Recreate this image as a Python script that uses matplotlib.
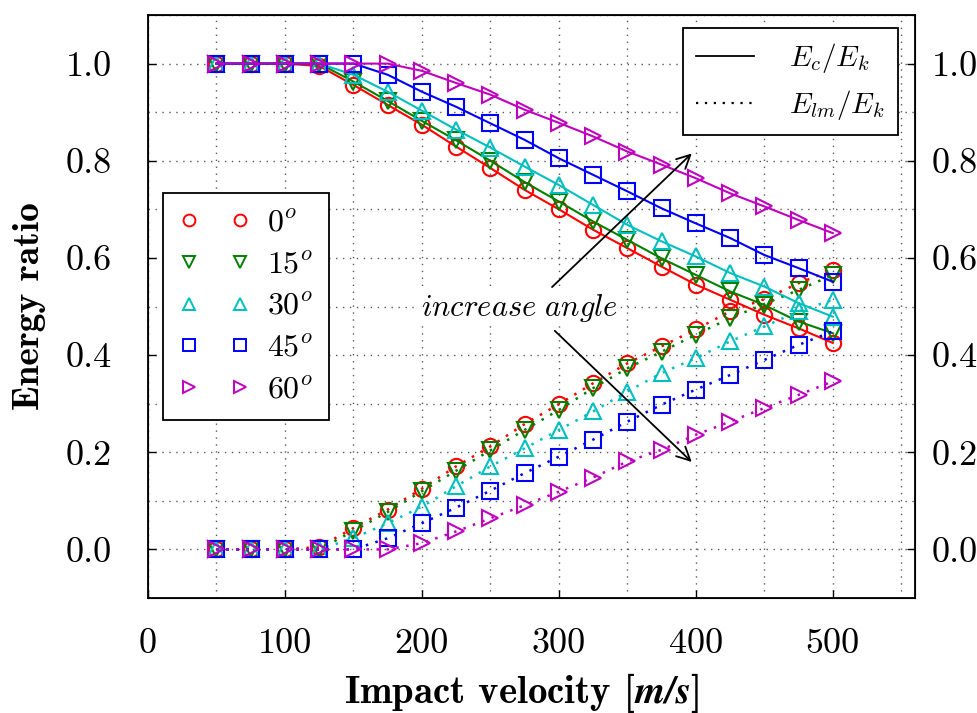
import matplotlib
matplotlib.use("Agg")
import matplotlib.pyplot as plt
from matplotlib.lines import Line2D
from matplotlib.ticker import MultipleLocator

plt.rcParams['font.family'] = ['cmr10', 'DejaVu Serif']
plt.rcParams['mathtext.fontset'] = 'cm'
plt.rcParams['axes.formatter.use_mathtext'] = True

velocity = [50, 75, 100, 125, 150, 175, 200, 225, 250, 275, 300, 325, 350, 375, 400, 425, 450, 475, 500]
angles = ['0', '15', '30', '45', '60']

ec_0 = [1.0, 1.0, 1.0, 0.995, 0.956, 0.915, 0.874, 0.829, 0.785, 0.740, 0.700, 0.658, 0.620, 0.582, 0.545, 0.514, 0.483, 0.455, 0.425]
ec_15 = [1.0, 1.0, 1.0, 1.0, 0.963, 0.923, 0.882, 0.842, 0.800, 0.756, 0.716, 0.675, 0.637, 0.599, 0.565, 0.531, 0.503, 0.469, 0.445]
ec_30 = [1.0, 1.0, 1.0, 1.0, 0.977, 0.942, 0.903, 0.864, 0.827, 0.788, 0.750, 0.709, 0.668, 0.634, 0.603, 0.569, 0.541, 0.507, 0.479]
ec_45 = [1.0, 1.0, 1.0, 1.0, 1.0, 0.977, 0.942, 0.911, 0.877, 0.843, 0.805, 0.771, 0.737, 0.702, 0.671, 0.641, 0.606, 0.579, 0.551]
ec_60 = [1.0, 1.0, 1.0, 1.0, 1.0, 1.0, 0.985, 0.960, 0.936, 0.905, 0.878, 0.850, 0.819, 0.792, 0.764, 0.733, 0.706, 0.678, 0.651]

elm_0 = [0.0, 0.0, 0.0, 0.005, 0.044, 0.082, 0.125, 0.171, 0.212, 0.258, 0.299, 0.342, 0.383, 0.418, 0.453, 0.490, 0.515, 0.548, 0.575]
elm_15 = [0.0, 0.0, 0.0, 0.0, 0.038, 0.077, 0.120, 0.162, 0.204, 0.246, 0.287, 0.332, 0.373, 0.407, 0.442, 0.476, 0.505, 0.534, 0.565]
elm_30 = [0.0, 0.0, 0.0, 0.0, 0.023, 0.054, 0.088, 0.130, 0.171, 0.208, 0.246, 0.284, 0.325, 0.363, 0.394, 0.428, 0.459, 0.490, 0.514]
elm_45 = [0.0, 0.0, 0.0, 0.0, 0.0, 0.023, 0.054, 0.086, 0.121, 0.157, 0.191, 0.226, 0.263, 0.298, 0.329, 0.359, 0.390, 0.421, 0.449]
elm_60 = [0.0, 0.0, 0.0, 0.0, 0.0, 0.0, 0.013, 0.037, 0.064, 0.091, 0.119, 0.148, 0.181, 0.205, 0.236, 0.263, 0.291, 0.318, 0.346]

ec_series = [ec_0, ec_15, ec_30, ec_45, ec_60]
elm_series = [elm_0, elm_15, elm_30, elm_45, elm_60]
colors = ['r', 'g', 'c', 'b', 'm']
markers = ['o', 'v', '^', 's', '>']

fig = plt.figure(figsize=(9.78, 7.13), dpi=100)
ax = fig.add_axes([148/978, 1-598/713, (915-148)/978, (598-15)/713])

for ec, elm, c, mk in zip(ec_series, elm_series, colors, markers):
    ax.plot(velocity, ec, color=c, marker=mk, ms=11, mfc='none', mew=1.5, lw=1.5, ls='-', zorder=3)
    ax.plot(velocity, elm, color=c, marker=mk, ms=11, mfc='none', mew=1.5, lw=1.8, ls=(0, (1, 3)), zorder=3)

ax.set_xlim(0, 560)
ax.set_ylim(-0.1, 1.1)
ax.xaxis.set_major_locator(MultipleLocator(100))
ax.xaxis.set_minor_locator(MultipleLocator(50))
ax.yaxis.set_major_locator(MultipleLocator(0.2))
ax.yaxis.set_minor_locator(MultipleLocator(0.1))
ax.set_yticks([0.0, 0.2, 0.4, 0.6, 0.8, 1.0])
ax.set_yticklabels(['0.0', '0.2', '0.4', '0.6', '0.8', '1.0'])
ax.set_xticks([0, 100, 200, 300, 400, 500])
ax.set_xticklabels(['0', '100', '200', '300', '400', '500'])
ax.grid(True, which='both', color='0.35', ls=(0, (1, 4)), lw=1.0)
ax.tick_params(which='major', direction='in', length=6, width=1.0, labelsize=26)
ax.tick_params(axis='y', which='major', pad=26)
ax.tick_params(axis='x', which='major', pad=22)
ax.tick_params(which='minor', length=0)
for s in ax.spines.values():
    s.set_linewidth(1.3)

ax2 = ax.twinx()
ax2.set_ylim(-0.1, 1.1)
ax2.set_yticks([0.0, 0.2, 0.4, 0.6, 0.8, 1.0])
ax2.set_yticklabels(['0.0', '0.2', '0.4', '0.6', '0.8', '1.0'])
ax2.tick_params(direction='in', length=6, width=1.0, labelsize=26, pad=12)

ax.set_ylabel('Energy ratio', fontfamily='cmb10', fontsize=27, labelpad=14)
ax.set_xlabel(r'Impact velocity [$\mathbfit{m/s}$]', fontfamily='cmb10', fontsize=28, labelpad=8)
ax.xaxis.set_label_coords(0.487, -0.125)

handles = [Line2D([], [], color=c, marker=mk, ls='none', ms=10, mfc='none', mew=1.4)
           for c, mk in zip(colors, markers)]
leg1 = ax.legend(handles, [r'$%s^o$' % a for a in angles], loc='upper left',
                 bbox_to_anchor=(0.0196, 0.695), borderaxespad=0, numpoints=2,
                 fontsize=23, markerscale=0.85, fancybox=False, framealpha=1,
                 edgecolor='black', labelspacing=0.42, handlelength=2.2, handletextpad=0.55,
                 borderpad=0.5)
leg1.get_frame().set_linewidth(1.3)
ax.add_artist(leg1)

h2 = [Line2D([], [], color='black', ls='-', lw=1.3),
      Line2D([], [], color='black', ls=(0, (1, 3)), lw=1.6)]
leg2 = ax.legend(h2, [r'$E_c/E_k$', r'$E_{lm}/E_k$'], loc='upper right',
                 bbox_to_anchor=(0.978, 0.978), borderaxespad=0, fontsize=21,
                 fancybox=False, framealpha=1, edgecolor='black', handlelength=2.0,
                 handletextpad=1.2, borderpad=0.45, labelspacing=0.45)
leg2.get_frame().set_linewidth(1.3)

ax.text(271, 0.496, r'$increase\ angle$', fontsize=22, ha='center', va='center', zorder=5,
        bbox=dict(facecolor='white', edgecolor='none', pad=1))
ax.annotate('', xy=(397, 0.815), xytext=(295, 0.54),
            arrowprops=dict(arrowstyle='->', color='black', lw=1.3, mutation_scale=24, shrinkA=0, shrinkB=0))
ax.annotate('', xy=(397, 0.18), xytext=(297, 0.45),
            arrowprops=dict(arrowstyle='->', color='black', lw=1.3, mutation_scale=24, shrinkA=0, shrinkB=0))

fig.savefig('out.png', dpi=100)
